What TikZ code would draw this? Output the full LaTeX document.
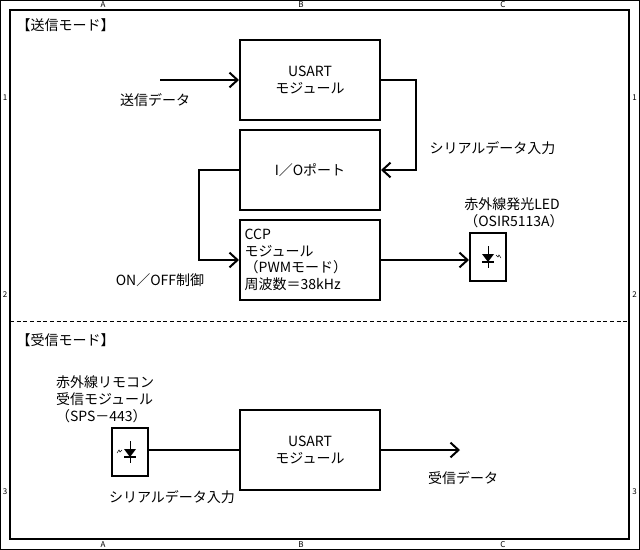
\documentclass[tikz,border=0pt]{standalone}
\usepackage{fontspec}
\setmainfont{Noto Sans CJK JP}
\usetikzlibrary{arrows.meta}
\tikzset{
  blk/.style={draw=black, line width=1.5pt, minimum width=105pt, minimum height=60pt, inner sep=2pt, align=center, font=\fontsize{10.5}{12.5}\selectfont},
  ledbox/.style={draw=black, line width=1.5pt, minimum width=27pt, minimum height=36pt},
  lbl/.style={font=\fontsize{10.5}{12.5}\selectfont, align=left, inner sep=1pt},
  sig/.style={line width=1.5pt, -{Straight Barb[length=6pt, width=11pt]}},
  wire/.style={line width=1.5pt},
  gridmark/.style={font=\fontsize{6}{7}\selectfont, inner sep=0pt}
}
\newcommand{\ledsym}[2]{%
  \begin{scope}[shift={(#1)}]
    \draw (0,-11) -- (0,11);
    \fill (-6,-3) -- (6,-3) -- (0,5) -- cycle;
    \draw[line width=0.8pt] (-6,5) -- (6,5);
    \draw[line width=0.4pt] (#2*8,-2) -- (#2*10,0) -- (#2*11,-2) -- (#2*13,1);
  \end{scope}}
\begin{document}
\begin{tikzpicture}[x=0.75pt, y=-0.75pt]
\useasboundingbox (0,0) rectangle (640,550);
% frame
\draw[line width=0.8pt] (0.5,0.5) rectangle (639.5,549.5);
\draw[line width=0.8pt] (10,10) rectangle (629,539);
\draw[dash pattern=on 3pt off 2pt, line width=0.5pt] (10,321) -- (629,321);
\foreach \c/\x in {A/103, B/301, C/503} {
  \node[gridmark] at (\x,5) {\c};
  \node[gridmark] at (\x,544.5) {\c};
}
\foreach \r/\y in {1/98, 2/295, 3/492} {
  \node[gridmark] at (5,\y) {\r};
  \node[gridmark] at (634.5,\y) {\r};
}
\node[lbl, anchor=west] (SEND_TITLE) at (15,25) {【送信モード】};
\node[lbl, anchor=west] (RECV_TITLE) at (15,340) {【受信モード】};

% send mode
\node (USART_TX) [blk] at (310,80) {USART\\モジュール};
\node (IO_PORT) [blk] at (310,170) {I／Oポート};
\node (CCP) [blk, align=left, text width=98pt] at (310,260) {CCP\\モジュール\\（PWMモード）\\周波数＝38kHz};
\node (LED_TX) [ledbox] at (488,257) {};
\ledsym{488,257}{1}
\node (LED_TX_LBL) [lbl, anchor=south] at (514,229) {赤外線発光LED\\（OSIR5113A）};
\coordinate (TX_IN) at (160,80);
\node (TX_DATA) [lbl] at (155,100) {送信データ};
\node (SERIAL_IN) [lbl, anchor=west] at (428,148) {シリアルデータ入力};
\node (ONOFF) [lbl] at (160,280) {ON／OFF制御};

\draw[sig] (TX_IN) -- (USART_TX);
\draw[sig] (USART_TX.east) -- ++(35,0) |- (IO_PORT.east);
\draw[sig] (IO_PORT.west) -- ++(-40,0) |- (CCP.west);
\draw[sig] (CCP.east) -- (LED_TX.west |- CCP.east);

% receive mode
\node (USART_RX) [blk] at (310,450) {USART\\モジュール};
\node (LED_RX) [ledbox] at (130,452) {};
\ledsym{130,452}{-1}
\node (LED_RX_LBL) [lbl, anchor=south] at (105,424) {赤外線リモコン\\受信モジュール\\（SPS－443）};
\coordinate (RX_OUT) at (460,450);
\node (SERIAL_RX) [lbl] at (172,497) {シリアルデータ入力};
\node (RX_DATA) [lbl] at (463,478) {受信データ};

\draw[wire] (LED_RX.east |- USART_RX.west) -- (USART_RX.west);
\draw[sig] (USART_RX.east) -- (RX_OUT);
\end{tikzpicture}
\end{document}
